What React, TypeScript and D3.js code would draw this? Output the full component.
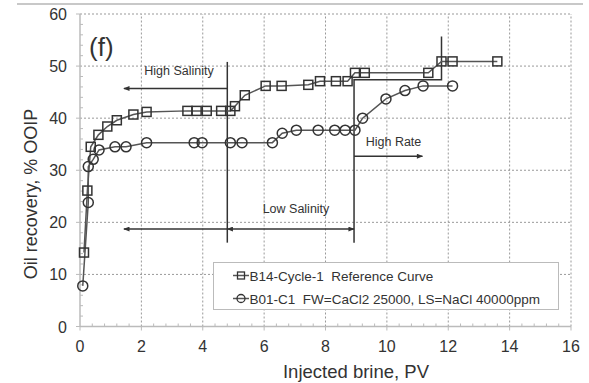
import { useRef, useEffect } from 'react';
import * as d3 from 'd3';

// B14-Cycle-1 reference curve (squares)
const refX = [0.13, 0.24, 0.35, 0.6, 0.89, 1.2, 1.74, 2.17, 3.5, 3.8, 4.13, 4.6, 4.9, 5.05, 5.37, 6.05, 6.57, 7.44, 7.82, 8.34, 8.72, 8.96, 9.28, 11.35, 11.78, 12.14, 13.6];
const refY = [14.2, 26.1, 34.5, 36.8, 38.4, 39.6, 40.7, 41.2, 41.4, 41.4, 41.4, 41.4, 41.4, 42.3, 44.4, 46.2, 46.2, 46.4, 47.1, 47.1, 47.1, 48.7, 48.7, 48.7, 50.9, 50.9, 50.9];

// B01-C1 (circles)
const b01X = [0.09, 0.27, 0.27, 0.43, 0.62, 1.14, 1.5, 2.17, 3.72, 3.98, 4.9, 5.28, 6.27, 6.59, 7.05, 7.76, 8.3, 8.64, 8.96, 9.21, 9.97, 10.59, 11.18, 12.14];
const b01Y = [7.8, 23.8, 30.7, 32.1, 33.9, 34.5, 34.5, 35.3, 35.3, 35.3, 35.3, 35.3, 35.3, 37.1, 37.7, 37.7, 37.7, 37.7, 37.7, 40.0, 43.7, 45.3, 46.2, 46.2];

const xTicks = [0, 2, 4, 6, 8, 10, 12, 14, 16];
const yTicks = [0, 10, 20, 30, 40, 50, 60];
const legendLabels = ['B14-Cycle-1  Reference Curve', 'B01-C1  FW=CaCl2 25000, LS=NaCl 40000ppm'];

export default function App() {
  const ref = useRef<SVGSVGElement>(null);

  useEffect(() => {
    const svg = d3.select(ref.current);
    svg.selectAll('*').remove();
    const W = 589, H = 383;
    const m = { left: 80, right: 18, top: 14, bottom: 56.5 };
    const x = d3.scaleLinear().domain([0, 16]).range([m.left, W - m.right]);
    const y = d3.scaleLinear().domain([0, 60]).range([H - m.bottom, m.top]);
    const font = 'Liberation Sans, Arial, sans-serif';
    const ink = '#555';
    const txt = '#333';

    // top frame line
    svg.append('line').attr('x1', 17).attr('x2', 583).attr('y1', 4).attr('y2', 4)
      .attr('stroke', '#c8c8c8').attr('stroke-width', 2);

    const defs = svg.append('defs');
    defs.append('marker').attr('id', 'arr').attr('viewBox', '0 -4 10 8')
      .attr('refX', 9).attr('refY', 0).attr('markerWidth', 7).attr('markerHeight', 5)
      .attr('markerUnits', 'userSpaceOnUse').attr('orient', 'auto-start-reverse')
      .append('path').attr('d', 'M0,-4L10,0L0,4Z').attr('fill', '#333');

    // grid
    const grid = svg.append('g').attr('stroke', '#999').attr('stroke-width', 1).attr('stroke-dasharray', '2,2');
    xTicks.slice(1).forEach(t => grid.append('line').attr('x1', x(t)).attr('x2', x(t)).attr('y1', y(0)).attr('y2', y(60)));
    yTicks.slice(1).forEach(t => grid.append('line').attr('x1', x(0)).attr('x2', x(16)).attr('y1', y(t)).attr('y2', y(t)));

    // axes
    const ax = svg.append('g').attr('stroke', '#bbb').attr('stroke-width', 1.5);
    ax.append('line').attr('x1', x(0)).attr('x2', x(16)).attr('y1', y(0)).attr('y2', y(0));
    ax.append('line').attr('x1', x(0)).attr('x2', x(0)).attr('y1', y(0)).attr('y2', y(60));
    d3.range(0, 16.01, 0.4).forEach(t => {
      const major = Math.abs(t / 2 - Math.round(t / 2)) < 1e-6;
      ax.append('line').attr('x1', x(t)).attr('x2', x(t))
        .attr('y1', y(0) + (major ? 4 : 0)).attr('y2', y(0) - (major ? 0 : 3)).attr('stroke-width', 1);
    });
    d3.range(0, 60.01, 2).forEach(t => {
      const major = t % 10 === 0;
      ax.append('line').attr('y1', y(t)).attr('y2', y(t))
        .attr('x1', x(0) - (major ? 4 : 0)).attr('x2', x(0) + (major ? 0 : 3)).attr('stroke-width', 1);
    });

    const lbl = svg.append('g').attr('font-family', font).attr('fill', txt);
    xTicks.forEach(t => lbl.append('text').attr('x', x(t)).attr('y', y(0) + 25)
      .attr('text-anchor', 'middle').attr('font-size', 16).text(t));
    yTicks.forEach(t => lbl.append('text').attr('x', x(0) - 13).attr('y', y(t) + 6)
      .attr('text-anchor', 'end').attr('font-size', 16).text(t));
    lbl.append('text').attr('x', 356).attr('y', 378).attr('text-anchor', 'middle')
      .attr('font-size', 18.5).text('Injected brine, PV');
    lbl.append('text').attr('transform', 'translate(37,194) rotate(-90)').attr('text-anchor', 'middle')
      .attr('font-size', 18).text('Oil recovery, % OOIP');
    lbl.append('text').attr('x', 89).attr('y', 56).attr('font-size', 26).text('(f)');

    // annotations
    const an = svg.append('g').attr('stroke', '#333').attr('stroke-width', 1.5).attr('fill', 'none');
    an.append('line').attr('x1', x(4.8)).attr('x2', x(4.8)).attr('y1', y(50.8)).attr('y2', y(16.1));
    an.append('path').attr('d', `M${x(8.93)},${y(16.1)}V${y(47.4)}H${x(11.78)}V${y(55.7)}`);
    an.append('line').attr('x1', x(4.8)).attr('x2', x(1.43)).attr('y1', y(45.7)).attr('y2', y(45.7)).attr('marker-end', 'url(#arr)');
    an.append('line').attr('x1', x(4.8)).attr('x2', x(1.43)).attr('y1', y(18.7)).attr('y2', y(18.7)).attr('marker-end', 'url(#arr)');
    an.append('line').attr('x1', x(4.8)).attr('x2', x(8.93)).attr('y1', y(18.7)).attr('y2', y(18.7))
      .attr('marker-start', 'url(#arr)').attr('marker-end', 'url(#arr)');
    an.append('line').attr('x1', x(8.93)).attr('x2', x(11.16)).attr('y1', y(32.7)).attr('y2', y(32.7)).attr('marker-end', 'url(#arr)');
    const at = svg.append('g').attr('font-family', font).attr('fill', txt).attr('font-size', 12.5).attr('text-anchor', 'middle');
    at.append('text').attr('x', 179).attr('y', 75).text('High Salinity');
    at.append('text').attr('x', 296).attr('y', 212.5).text('Low Salinity');
    at.append('text').attr('x', 393.5).attr('y', 146).text('High Rate');

    // series
    const refData = refX.map((v, i) => [v, refY[i]] as [number, number]);
    const b01Data = b01X.map((v, i) => [v, b01Y[i]] as [number, number]);
    const line = d3.line<[number, number]>().x(d => x(d[0])).y(d => y(d[1]));
    svg.append('path').datum(b01Data).attr('d', line).attr('fill', 'none').attr('stroke', ink).attr('stroke-width', 1.5);
    svg.append('path').datum(refData).attr('d', line).attr('fill', 'none').attr('stroke', ink).attr('stroke-width', 1.5);
    svg.append('g').selectAll('circle').data(b01Data).enter().append('circle')
      .attr('cx', d => x(d[0])).attr('cy', d => y(d[1])).attr('r', 5)
      .attr('fill', 'none').attr('stroke', '#333').attr('stroke-width', 1.5);
    svg.append('g').selectAll('rect').data(refData).enter().append('rect')
      .attr('x', d => x(d[0]) - 4.5).attr('y', d => y(d[1]) - 4.5).attr('width', 9).attr('height', 9)
      .attr('fill', 'none').attr('stroke', '#333').attr('stroke-width', 1.5);

    // legend
    const lg = svg.append('g');
    lg.append('rect').attr('x', 213.5).attr('y', 262.5).attr('width', 345).attr('height', 47)
      .attr('fill', '#fff').attr('stroke', '#bbb').attr('stroke-width', 1);
    legendLabels.forEach((t, i) => {
      const cy = 275.5 + i * 23;
      lg.append('line').attr('x1', 233).attr('x2', 249).attr('y1', cy).attr('y2', cy).attr('stroke', ink).attr('stroke-width', 1.5);
      if (i === 0) lg.append('rect').attr('x', 237.5).attr('y', cy - 3.5).attr('width', 7).attr('height', 7)
        .attr('fill', 'none').attr('stroke', '#333').attr('stroke-width', 1.3);
      else lg.append('circle').attr('cx', 241).attr('cy', cy).attr('r', 4)
        .attr('fill', 'none').attr('stroke', '#333').attr('stroke-width', 1.3);
      lg.append('text').attr('x', 249.5).attr('y', cy + 5).attr('font-family', font)
        .attr('font-size', 13.5).attr('fill', txt).style('white-space', 'pre').text(t);
    });
  }, []);

  return (
    <svg ref={ref} width={589} height={383}
      style={{ position: 'absolute', left: 0, top: 0, background: '#fff' }} />
  );
}
